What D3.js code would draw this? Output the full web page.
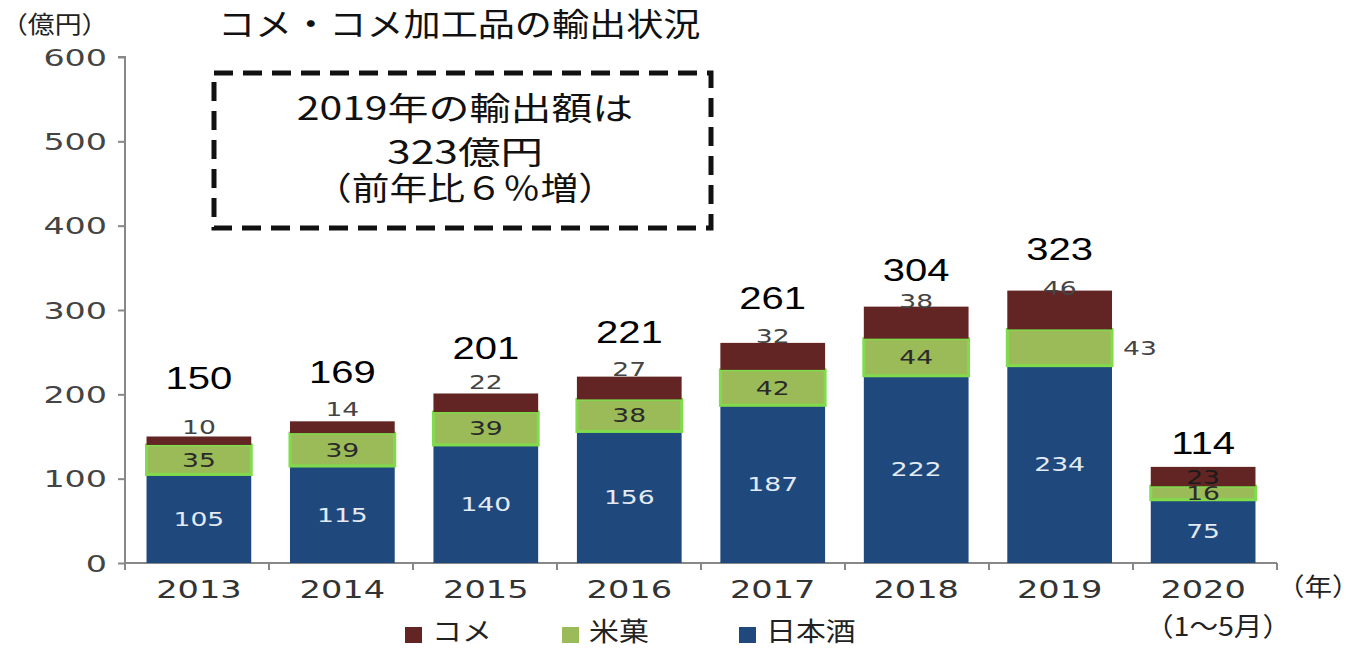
<!DOCTYPE html>
<html><head><meta charset="utf-8">
<script src="https://cdn.jsdelivr.net/npm/d3@7"></script>
<style>body{margin:0;background:#fff}svg{display:block}</style>
</head><body><svg id="c" width="1371" height="648"></svg>
<script>
const years = ["2013","2014","2015","2016","2017","2018","2019","2020"];
const sake = [105,115,140,156,187,222,234,75];
const senbei = [35,39,39,38,42,44,43,16];
const rice = [10,14,22,27,32,38,46,23];
const totals = [150,169,201,221,261,304,323,114];
const yTicks = [0,100,200,300,400,500,600];
const seriesNames = ["コメ","米菓","日本酒"];
const boxLines = ["2019年の輸出額は","323億円","（前年比６％増）"];

// layout constants (not data)
const colors = {"日本酒":"#1F497D","米菓":"#9BBB59","コメ":"#632523"};
const totalOffsets = [48,37,34,34,34,26,31,13];
const riceOffsets = [3,5,4,1,0,-1,-4];

const svg = d3.select("#c");
const jp = "'Noto Sans CJK JP', sans-serif";
const geo = "'DejaVu Sans', sans-serif";
const ari = "'Liberation Sans', Arial, sans-serif";

function txt(g, x, y, s, o) {
  return g.append("text")
    .attr("transform", `translate(${x},${y}) scale(${o.sx||1},1)`)
    .attr("text-anchor", o.anchor||"middle")
    .attr("font-family", o.font||geo).attr("font-size", o.size||20)
    .attr("fill", o.fill||"#222").text(s);
}

const x = d3.scaleBand().domain(years).range([125,1277]).paddingInner(0.27).paddingOuter(0.15);
const y = d3.scaleLinear().domain([0,600]).range([563,57]);

// y axis
const yAxis = d3.axisLeft(y).tickValues(yTicks).tickSize(7).tickFormat("");
const gy = svg.append("g").attr("transform","translate(125,0)").call(yAxis);
gy.select(".domain").attr("stroke","#888").attr("stroke-width",2).attr("d","M-7,57H0V563");
gy.selectAll(".tick line").attr("stroke","#888").attr("stroke-width",2);
const gyl = svg.append("g");
yTicks.forEach(v => txt(gyl, 107, y(v)+8.5, String(v), {anchor:"end", size:23, sx:1.45, fill:"#444"}));

// x axis with ticks at band boundaries
const bounds = d3.range(years.length+1).map(i => 125 + i*(1277-125)/years.length);
svg.append("line").attr("x1",125).attr("x2",1277).attr("y1",563).attr("y2",563).attr("stroke","#888").attr("stroke-width",2);
svg.selectAll(".xt").data(bounds).enter().append("line")
  .attr("x1",d=>d).attr("x2",d=>d).attr("y1",563).attr("y2",570).attr("stroke","#888").attr("stroke-width",2);

// stacked bars
const rows = years.map((yr,i)=>({year:yr,"日本酒":sake[i],"米菓":senbei[i],"コメ":rice[i],total:totals[i]}));
const stack = d3.stack().keys(["日本酒","米菓","コメ"])(rows);
stack.forEach(layer=>{
  svg.append("g").selectAll("rect").data(layer).enter().append("rect")
    .attr("x",d=>x(d.data.year)).attr("width",x.bandwidth())
    .attr("y",d=>y(d[1])).attr("height",d=>y(d[0])-y(d[1]))
    .attr("fill",colors[layer.key])
    .attr("stroke",layer.key==="米菓"?"#80DC4C":"none")
    .attr("stroke-width",layer.key==="米菓"?3:0);
});

const bx = d => x(d.data.year)+x.bandwidth()/2;
const lab = svg.append("g");
stack[0].forEach(d => txt(lab, bx(d), (y(d[0])+y(d[1]))/2+7, d.data["日本酒"], {size:19, sx:1.4, fill:"#E4EAF4"}));
stack[1].forEach((d,i) => {
  const cx = i===6 ? x(d.data.year)+x.bandwidth()+28 : bx(d);
  txt(lab, cx, (y(d[0])+y(d[1]))/2+7, d.data["米菓"], {size:19, sx:1.4, fill: i===6?"#444":"#2a2a2a"});
});
stack[2].forEach((d,i) => {
  const yy = i===7 ? (y(d[0])+y(d[1]))/2+7 : y(d[1]) - riceOffsets[i];
  txt(lab, bx(d), yy, d.data["コメ"], {size:19, sx:1.4, fill: i===7?"#1a1a1a":"#444"});
});
rows.forEach((d,i) => txt(lab, x(d.year)+x.bandwidth()/2, y(d.total)-totalOffsets[i], d.total, {font:ari, size:32, sx:1.25, fill:"#000"}));

years.forEach(d => txt(lab, x(d)+x.bandwidth()/2, 598, d, {size:24, sx:1.4, fill:"#333"}));

txt(svg, 1277, 596, "（年）", {anchor:"start", font:jp, size:25, sx:1.1});
txt(svg, 1218, 636, "（1～5月）", {font:jp, size:26, sx:1.1});

txt(svg, 1, 33, "（億円）", {anchor:"start", font:jp, size:24, sx:1.12});
txt(svg, 218, 36, "コメ・コメ加工品の輸出状況", {anchor:"start", font:jp, size:32, sx:1.16, fill:"#111"});

// dashed box
svg.append("rect").attr("x",214).attr("y",73).attr("width",497).attr("height",155)
  .attr("fill","none").attr("stroke","#111").attr("stroke-width",5).attr("stroke-dasharray","19,10");
const boxY = [120,164,200], boxSx = [1.28,1.33,1.18];
boxLines.forEach((s,i) => txt(svg, 465, boxY[i], s, {font:jp, size:32, fill:"#111", sx:boxSx[i]}));

// legend
const legX = [405,562,739];
seriesNames.forEach((n,i) => {
  svg.append("rect").attr("x",legX[i]).attr("y",627).attr("width",17).attr("height",16).attr("fill",colors[n]);
  txt(svg, legX[i]+27, 641, n, {anchor:"start", font:jp, size:26, sx:1.15});
});
</script></body></html>
